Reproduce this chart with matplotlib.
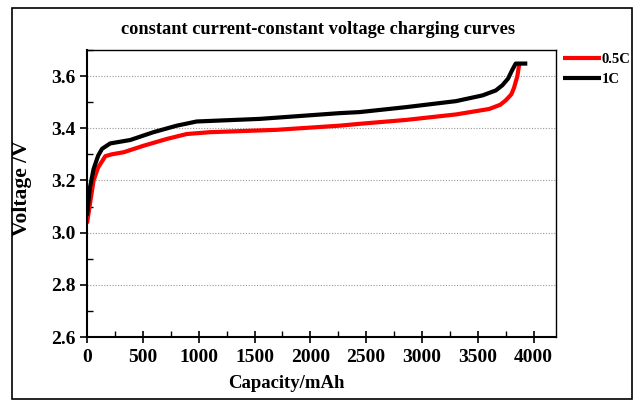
import matplotlib
matplotlib.use("Agg")
import matplotlib.pyplot as plt
from matplotlib.patches import Rectangle
from matplotlib.ticker import MultipleLocator, FormatStrFormatter

plt.rcParams['font.family'] = ['Liberation Serif', 'DejaVu Serif']
plt.rcParams['font.weight'] = 'bold'

# 0.5C series
cap_05 = [0, 30, 59, 100, 164, 220, 327, 506, 714, 893, 1102, 1696, 2262, 2440,
          2857, 3304, 3602, 3700, 3750, 3800, 3824, 3854, 3869, 3880]
v_05 = [3.035, 3.12, 3.20, 3.25, 3.293, 3.300, 3.308, 3.333, 3.359, 3.378, 3.385,
        3.394, 3.41, 3.417, 3.432, 3.453, 3.474, 3.490, 3.507, 3.530, 3.555, 3.600, 3.641, 3.648]
# 1C series
cap_1 = [0, 25, 59, 100, 134, 208, 387, 595, 804, 982, 1548, 2262, 2441, 2857, 3304,
         3542, 3661, 3720, 3770, 3810, 3839, 3943]
v_1 = [3.065, 3.17, 3.244, 3.295, 3.321, 3.342, 3.355, 3.385, 3.41, 3.426, 3.436, 3.458,
       3.462, 3.481, 3.504, 3.526, 3.545, 3.565, 3.590, 3.625, 3.648, 3.648]

labels = ['0.5C', '1C']
colors = ['#ff0000', '#000000']

fig = plt.figure(figsize=(6.35, 4.03), dpi=100)
ax = fig.add_axes([87/635, 1-337/403, (556-87)/635, (337-50)/403])

l1, = ax.plot(cap_05, v_05, color=colors[0], lw=3.0, solid_capstyle='butt')
l2, = ax.plot(cap_1, v_1, color=colors[1], lw=3.0, solid_capstyle='butt')

ax.set_xlim(0, 4200)
ax.set_ylim(2.6, 3.7)
ax.xaxis.set_major_locator(MultipleLocator(500))
ax.xaxis.set_minor_locator(MultipleLocator(250))
ax.yaxis.set_major_locator(MultipleLocator(0.2))
ax.yaxis.set_minor_locator(MultipleLocator(0.1))
ax.yaxis.set_major_formatter(FormatStrFormatter('%.1f'))
ax.tick_params(which='major', direction='inout', length=8, width=1.2, labelsize=14)
ax.tick_params(which='minor', direction='in', length=4, width=1.0)
ax.tick_params(axis='y', which='major', direction='out', length=5, pad=3)
ax.tick_params(axis='x', which='major', pad=5)
for lab in ax.get_xticklabels() + ax.get_yticklabels():
    lab.set_fontweight('bold')

for s in ['left', 'bottom']:
    ax.spines[s].set_linewidth(1.5)
for s in ['top', 'right']:
    ax.spines[s].set_linewidth(1.0)

ax.grid(axis='y', which='major', color='#999999', linestyle=(0, (1, 1.5)), lw=0.8)
ax.set_axisbelow(True)

fig.text(286/635, 1-383/403, 'Capacity/mAh', ha='center', va='center',
         fontsize=13.5, fontweight='bold')
fig.text(22/635, 1-188/403, 'Voltage /V', ha='center', va='center', rotation=90,
         fontsize=15.5, fontweight='bold')
fig.text(318/635, 1-30/403, 'constant current-constant voltage charging curves',
         ha='center', va='center', fontsize=13.2, fontweight='bold')

leg = fig.legend([l1, l2], labels, loc='upper left', bbox_to_anchor=(563/635, 1-53/403),
                 frameon=False, fontsize=10.5, handlelength=2.6, handletextpad=0.05,
                 labelspacing=0.45, borderaxespad=0, borderpad=0)
for t in leg.get_texts():
    t.set_fontweight('bold')

fig.patches.append(Rectangle((12/635, 1-399/403), (620/635), (391/403),
                             transform=fig.transFigure, fill=False, ec='black', lw=1.2))

fig.savefig('out.png', dpi=100)
